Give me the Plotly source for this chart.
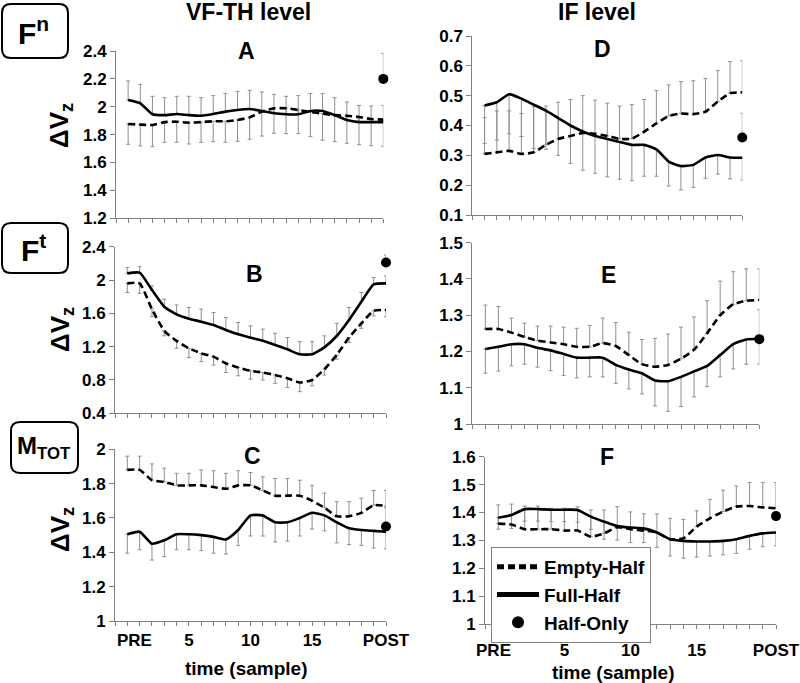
import plotly.graph_objects as go

W, H = 800, 683

# ---------------- data ----------------
x_idx = list(range(22))            # 0 = PRE, 1..20 samples, 21 = POST
C_tick_labels = {0: "\u00a0\u00a0\u00a0PRE", 5: "5", 10: "10", 15: "15", 21: "POST"}
F_tick_labels = {0: "PRE\u00a0\u00a0", 5: "5", 10: "10", 15: "15", 21: "POST"}

# Panel A  (Fn, VF-TH level)
A_full = [2.049, 2.025, 1.946, 1.94, 1.948, 1.94, 1.936, 1.948, 1.965, 1.977, 1.984,
          1.97, 1.953, 1.946, 1.946, 1.97, 1.97, 1.94, 1.905, 1.89, 1.89, 1.89]
A_full_end = [2.185, 2.161, 2.075, 2.065, 2.075, 2.075, 2.065, 2.08, 2.096, 2.11, 2.118,
              2.106, 2.089, 2.075, 2.08, 2.096, 2.094, 2.065, 2.034, 2.01, 2.006, 2.01]
A_empty = [1.876, 1.872, 1.869, 1.89, 1.893, 1.886, 1.89, 1.896, 1.896, 1.905, 1.924,
           1.965, 1.989, 1.989, 1.977, 1.963, 1.951, 1.94, 1.936, 1.927, 1.912, 1.908]
A_empty_end = [1.731, 1.719, 1.714, 1.745, 1.745, 1.733, 1.745, 1.75, 1.745, 1.752, 1.767,
               1.79, 1.81, 1.807, 1.807, 1.786, 1.76, 1.75, 1.738, 1.728, 1.721, 1.716]
A_half, A_half_end = 2.2, 2.383

# Panel B  (Ft, VF-TH level)
B_full = [2.08, 2.088, 1.88, 1.68, 1.588, 1.536, 1.50, 1.46, 1.40, 1.348, 1.308,
          1.272, 1.22, 1.168, 1.108, 1.108, 1.192, 1.328, 1.52, 1.74, 1.948, 1.96]
B_full_end = [2.15, 2.16, 1.93, 1.77, 1.70, 1.67, 1.65, 1.61, 1.55, 1.49, 1.45,
              1.41, 1.36, 1.31, 1.26, 1.26, 1.33, 1.48, 1.67, 1.85, 2.03, 2.05]
B_empty = [1.96, 1.96, 1.65, 1.39, 1.27, 1.18, 1.12, 1.08, 1.00, 0.95, 0.91,
           0.89, 0.86, 0.82, 0.77, 0.80, 0.93, 1.10, 1.31, 1.48, 1.63, 1.64]
B_empty_end = [1.85, 1.84, 1.56, 1.33, 1.18, 1.07, 1.02, 0.98, 0.89, 0.85, 0.81,
               0.80, 0.76, 0.71, 0.66, 0.73, 0.86, 1.05, 1.25, 1.42, 1.57, 1.56]
B_half, B_half_end = 2.21, 2.30

# Panel C  (MTOT, VF-TH level)
C_full = [1.505, 1.52, 1.45, 1.47, 1.505, 1.505, 1.50, 1.49, 1.475, 1.53, 1.615,
          1.615, 1.575, 1.575, 1.60, 1.63, 1.615, 1.575, 1.54, 1.53, 1.525, 1.52]
C_full_end = [1.395, 1.415, 1.355, 1.375, 1.415, 1.415, 1.41, 1.395, 1.39, 1.44, 1.495,
              1.495, 1.46, 1.465, 1.495, 1.535, 1.525, 1.455, 1.445, 1.44, 1.425, 1.42]
C_empty = [1.88, 1.88, 1.82, 1.81, 1.79, 1.79, 1.79, 1.78, 1.77, 1.79, 1.79,
           1.76, 1.73, 1.73, 1.73, 1.70, 1.66, 1.61, 1.61, 1.63, 1.675, 1.67]
C_empty_end = [1.96, 1.96, 1.915, 1.89, 1.86, 1.86, 1.88, 1.875, 1.86, 1.875, 1.865,
               1.84, 1.83, 1.83, 1.82, 1.79, 1.745, 1.695, 1.695, 1.715, 1.76, 1.76]
C_half, C_half_end = 1.55, 1.66

# Panel D  (Fn, IF level)
D_full = [0.467, 0.478, 0.505, 0.49, 0.47, 0.45, 0.425, 0.40, 0.38, 0.365, 0.355,
          0.345, 0.335, 0.335, 0.32, 0.279, 0.264, 0.268, 0.293, 0.301, 0.293, 0.292]
D_full_end = [0.34, 0.351, 0.372, 0.363, 0.323, 0.32, 0.30, 0.273, 0.25, 0.24, 0.228,
              0.22, 0.215, 0.23, 0.23, 0.197, 0.184, 0.192, 0.223, 0.237, 0.221, 0.217]
D_empty = [0.305, 0.31, 0.315, 0.305, 0.31, 0.335, 0.355, 0.365, 0.375, 0.372, 0.365,
           0.355, 0.356, 0.379, 0.407, 0.432, 0.44, 0.438, 0.446, 0.48, 0.508, 0.511]
D_empty_end = [0.426, 0.449, 0.449, 0.44, 0.463, 0.465, 0.478, 0.487, 0.50, 0.485, 0.475,
               0.465, 0.47, 0.487, 0.517, 0.536, 0.547, 0.55, 0.558, 0.584, 0.614, 0.617]
D_half, D_half_end = 0.36, 0.441

# Panel E  (Ft, IF level)
E_full = [1.207, 1.213, 1.22, 1.22, 1.21, 1.203, 1.193, 1.183, 1.183, 1.183, 1.163,
          1.15, 1.14, 1.12, 1.118, 1.13, 1.145, 1.16, 1.19, 1.22, 1.233, 1.235]
E_full_end = [1.14, 1.146, 1.16, 1.165, 1.157, 1.147, 1.134, 1.127, 1.13, 1.13, 1.112,
              1.097, 1.083, 1.05, 1.035, 1.048, 1.075, 1.103, 1.13, 1.152, 1.165, 1.165]
E_empty = [1.262, 1.262, 1.252, 1.24, 1.23, 1.225, 1.22, 1.213, 1.213, 1.223, 1.215,
           1.19, 1.165, 1.158, 1.163, 1.18, 1.205, 1.25, 1.30, 1.33, 1.34, 1.342]
E_empty_end = [1.328, 1.324, 1.292, 1.278, 1.27, 1.27, 1.267, 1.264, 1.272, 1.292, 1.28,
               1.253, 1.233, 1.236, 1.248, 1.267, 1.295, 1.34, 1.394, 1.42, 1.428, 1.428]
E_half, E_half_end = 1.234, 1.315

# Panel F  (MTOT, IF level)
F_full = [1.381, 1.391, 1.412, 1.412, 1.41, 1.41, 1.409, 1.385, 1.367, 1.351, 1.346,
          1.343, 1.328, 1.304, 1.298, 1.296, 1.296, 1.298, 1.304, 1.316, 1.325, 1.328]
F_full_end = [1.34, 1.343, 1.369, 1.369, 1.367, 1.367, 1.365, 1.34, 1.304, 1.301, 1.292,
              1.292, 1.275, 1.244, 1.236, 1.24, 1.244, 1.248, 1.253, 1.268, 1.277, 1.28]
F_empty = [1.36, 1.357, 1.34, 1.34, 1.34, 1.335, 1.335, 1.313, 1.325, 1.347, 1.34,
           1.335, 1.328, 1.304, 1.307, 1.349, 1.379, 1.403, 1.421, 1.423, 1.418, 1.415]
F_empty_end = [1.427, 1.43, 1.423, 1.423, 1.415, 1.415, 1.42, 1.409, 1.409, 1.421, 1.402,
               1.395, 1.395, 1.379, 1.375, 1.406, 1.447, 1.48, 1.495, 1.507, 1.507, 1.507]
F_half, F_half_end = 1.387, None

A_yticks = [1.2, 1.4, 1.6, 1.8, 2, 2.2, 2.4]
B_yticks = [0.4, 0.8, 1.2, 1.6, 2, 2.4]
C_yticks = [1, 1.2, 1.4, 1.6, 1.8, 2]
D_yticks = [0.1, 0.2, 0.3, 0.4, 0.5, 0.6, 0.7]
E_yticks = [1, 1.1, 1.2, 1.3, 1.4, 1.5]
F_yticks = [1, 1.1, 1.2, 1.3, 1.4, 1.5, 1.6]

# ---------------- layout / styling ----------------
FONT = "Liberation Sans"
AXC = "#808080"
ERRC = "#8f8f8f"


def px_x(p):
    return p / W


def px_y(p):
    return 1 - p / H


panels = [
    dict(n=1, full=A_full, full_end=A_full_end, empty=A_empty, empty_end=A_empty_end,
         half=A_half, half_end=A_half_end, yr=[1.2, 2.4], yt=A_yticks,
         xpx=(116, 383.3), ypx=(51, 218.3), labels=None),
    dict(n=2, full=B_full, full_end=B_full_end, empty=B_empty, empty_end=B_empty_end,
         half=B_half, half_end=B_half_end, yr=[0.4, 2.4], yt=B_yticks,
         xpx=(115, 386), ypx=(246.7, 413.3), labels=None),
    dict(n=3, full=C_full, full_end=C_full_end, empty=C_empty, empty_end=C_empty_end,
         half=C_half, half_end=C_half_end, yr=[1, 2], yt=C_yticks,
         xpx=(115, 386), ypx=(449.3, 621), labels=C_tick_labels, standoff=0),
    dict(n=4, full=D_full, full_end=D_full_end, empty=D_empty, empty_end=D_empty_end,
         half=D_half, half_end=D_half_end, yr=[0.1, 0.7], yt=D_yticks,
         xpx=(472.3, 742.3), ypx=(36, 215), labels=None),
    dict(n=5, full=E_full, full_end=E_full_end, empty=E_empty, empty_end=E_empty_end,
         half=E_half, half_end=E_half_end, yr=[1, 1.5], yt=E_yticks,
         xpx=(472.3, 759.3), ypx=(242.7, 424), labels=None),
    dict(n=6, full=F_full, full_end=F_full_end, empty=F_empty, empty_end=F_empty_end,
         half=F_half, half_end=F_half_end, yr=[1, 1.6], yt=F_yticks,
         xpx=(485, 776), ypx=(456.7, 624), labels=F_tick_labels, standoff=7),
]

fig = go.Figure()
layout = {}


def err_arrays(vals, ends):
    plus = [max(e - v, 0) for v, e in zip(vals, ends)]
    minus = [max(v - e, 0) for v, e in zip(vals, ends)]
    return plus, minus


for p in panels:
    k = p["n"]
    xa = "x" if k == 1 else f"x{k}"
    ya = "y" if k == 1 else f"y{k}"
    legend_on = (k == 6)

    # error bars first (drawn underneath the lines)
    for vals, ends in ((p["empty"], p["empty_end"]), (p["full"], p["full_end"])):
        plus, minus = err_arrays(vals, ends)
        fig.add_trace(go.Scatter(
            x=x_idx, y=vals, mode="markers", marker=dict(size=1, opacity=0),
            error_y=dict(type="data", symmetric=False, array=plus, arrayminus=minus,
                         color=ERRC, thickness=1, width=2),
            xaxis=xa, yaxis=ya, showlegend=False, hoverinfo="skip", cliponaxis=False))

    fig.add_trace(go.Scatter(
        x=x_idx, y=p["empty"], mode="lines", name="Empty-Half",
        line=dict(color="black", width=2.6, dash="7px,4px", shape="spline", smoothing=0.5),
        xaxis=xa, yaxis=ya, showlegend=legend_on, cliponaxis=False))
    fig.add_trace(go.Scatter(
        x=x_idx, y=p["full"], mode="lines", name="Full-Half",
        line=dict(color="black", width=2.6, shape="spline", smoothing=0.5),
        xaxis=xa, yaxis=ya, showlegend=legend_on, cliponaxis=False))

    half_err = None
    if p["half_end"] is not None:
        half_err = dict(type="data", symmetric=False, array=[p["half_end"] - p["half"]],
                        arrayminus=[0], color=ERRC, thickness=1, width=2)
    fig.add_trace(go.Scatter(
        x=[x_idx[-1]], y=[p["half"]], mode="markers", name="Half-Only",
        marker=dict(color="black", size=10), error_y=half_err,
        xaxis=xa, yaxis=ya, showlegend=legend_on, cliponaxis=False))

    bottom = p["labels"] is not None
    xtickvals = list(range(-1, 22))
    xticktext = [p["labels"].get(v, "") if bottom else "" for v in xtickvals]
    xkey = "xaxis" if k == 1 else f"xaxis{k}"
    ykey = "yaxis" if k == 1 else f"yaxis{k}"
    layout[xkey] = dict(
        domain=[px_x(p["xpx"][0]), px_x(p["xpx"][1])], range=[-1, 21], anchor=ya,
        tickmode="array", tickvals=xtickvals, ticktext=xticktext,
        showticklabels=bottom, automargin=False, ticklabeloverflow="allow",
        showline=True, linecolor=AXC, linewidth=1, ticks="outside", ticklen=4,
        tickcolor=AXC, tickwidth=1, showgrid=False, zeroline=False, fixedrange=True,
        tickfont=dict(family=FONT, size=17, color="black", weight="bold"),
        ticklabelstandoff=p.get("standoff", 0))
    layout[ykey] = dict(
        domain=[px_y(p["ypx"][1]), px_y(p["ypx"][0])], range=p["yr"], anchor=xa,
        tickmode="array", tickvals=p["yt"], ticktext=[f"{v:g}" for v in p["yt"]],
        automargin=False,
        showline=True, linecolor=AXC, linewidth=1, ticks="outside", ticklen=5,
        tickcolor=AXC, tickwidth=1, showgrid=False, zeroline=False, fixedrange=True,
        tickfont=dict(family=FONT, size=17, color="black", weight="bold"))

annotations = []


def ann(text, x, y, size, angle=0):
    annotations.append(dict(text=text, x=px_x(x), y=px_y(y), xref="paper", yref="paper",
                            showarrow=False, xanchor="center", yanchor="middle",
                            textangle=angle,
                            font=dict(family=FONT, size=size, color="black", weight="bold")))


ann("VF-TH level", 248, 12, 23)
ann("IF level", 597, 12, 23)
for lbl, x, y in (("A", 246, 51), ("B", 254, 274), ("C", 253, 456),
                  ("D", 602, 49), ("E", 608, 275), ("F", 607, 457)):
    ann(lbl, x, y, 23)
for y in (126, 330, 530):
    ann("ΔV<sub>z</sub>", 61, y, 26, angle=-90)
ann("time (sample)", 246, 668, 19)
ann("time (sample)", 613, 672, 19)
ann("F<sup>n</sup>", 33, 31, 30)
ann("F<sup>t</sup>", 33, 248, 30)
ann("M<sub>TOT</sub>", 44, 447, 24)


def rounded_box(x0, y0, x1, y1, r):
    def P(x, y):
        return f"{px_x(x):.5f},{px_y(y):.5f}"
    path = (f"M {P(x0 + r, y0)} L {P(x1 - r, y0)} Q {P(x1, y0)} {P(x1, y0 + r)} "
            f"L {P(x1, y1 - r)} Q {P(x1, y1)} {P(x1 - r, y1)} "
            f"L {P(x0 + r, y1)} Q {P(x0, y1)} {P(x0, y1 - r)} "
            f"L {P(x0, y0 + r)} Q {P(x0, y0)} {P(x0 + r, y0)} Z")
    return dict(type="path", xref="paper", yref="paper", path=path,
                line=dict(color="black", width=2))


shapes = [rounded_box(2, 4, 68, 58, 9),
          rounded_box(2, 223, 68, 273, 9),
          rounded_box(11, 422, 78, 473, 9)]

fig.update_layout(
    width=W, height=H, margin=dict(l=0, r=0, t=0, b=0, autoexpand=False),
    paper_bgcolor="white", plot_bgcolor="white",
    annotations=annotations, shapes=shapes,
    legend=dict(x=px_x(491), y=px_y(547), xanchor="left", yanchor="top",
                bgcolor="white", bordercolor=AXC, borderwidth=1,
                font=dict(family=FONT, size=19, color="black", weight="bold"),
                itemsizing="constant", itemwidth=42, tracegroupgap=0),
    showlegend=True,
    **layout)

# the page's default 8px body margin would shift the 800x683 figure; remove it
fig.write_html("out.html",
               config={"displayModeBar": False},
               post_script="document.body.style.margin='0px';"
                           "document.body.style.overflow='hidden';")
